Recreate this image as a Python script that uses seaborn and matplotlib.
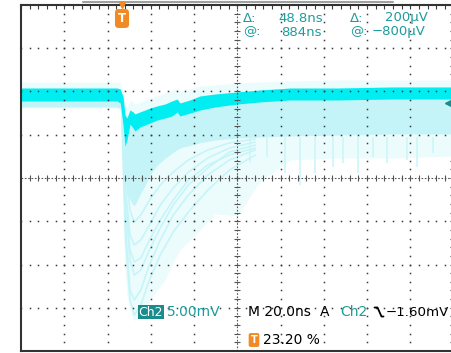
import numpy as np
import pandas as pd
import matplotlib
matplotlib.use("Agg")
import matplotlib.pyplot as plt
import seaborn as sns
from matplotlib.lines import Line2D

# ---------------- data (time in ns relative to trigger, voltage in mV relative to ground) ----
t_ns = [-46.4, -20, -2, -0.5, 0.8, 1.7, 2.6, 4.0, 5.4, 6.3, 8.6, 11, 13.3, 16.5, 20.2,
        23.4, 25.8, 27.1, 31.8, 36.4, 43.3, 53.5, 64, 78, 100, 125, 153.6]
haze_top = [2.43, 2.43, 2.43, 2.31, 1.50, -0.23, -0.58, 0.35, 0.12, -0.12, 0.12, 0.35, 0.58,
            0.81, 1.16, 1.50, 1.73, 1.27, 1.62, 1.97, 2.08, 2.31, 2.43, 2.54, 2.66, 2.66, 2.66]
band_top = [1.73, 1.73, 1.73, 1.62, 0.69, -1.39, -1.73, -0.81, -1.04, -1.27, -1.04, -0.81, -0.58,
            -0.35, -0.12, 0.23, 0.46, 0.0, 0.35, 0.81, 1.04, 1.27, 1.50, 1.73, 1.73, 1.85, 1.85]
band_bot = [0.23, 0.23, 0.23, 0.0, -2.54, -4.97, -4.28, -2.43, -2.89, -3.24, -2.77, -2.54, -2.31,
            -1.97, -1.73, -1.50, -1.04, -1.50, -1.16, -0.81, -0.46, -0.12, 0.12, 0.35, 0.35, 0.46, 0.46]
mid_bot = [-0.46, -0.46, -0.46, -0.58, -5.4, -8.9, -10.6, -11.2, -11.8, -11.8, -10.6,
           -9.5, -8.3, -7.2, -6.4, -5.8, -5.4, -5.2, -4.9, -4.6, -4.28, -4.05, -3.93,
           -3.81, -3.70, -3.58, -3.58]
faint_bot = [-0.58, -0.58, -0.58, -0.81, -13.53, -19.31, -22.20, -23.93, -25.08, -25.08, -24.85,
             -24.51, -22.77, -21.62, -20.46, -18.73, -17.57, -16.99, -15.84, -14.68, -12.83,
             -13.06, -9.13, -6.59, -6.36, -6.36, -6.13]

trace_t = [0.5, 2, 4, 6, 9, 13, 18, 24, 31, 40, 50, 62]
trace_1 = [-3.12, -14.68, -21.62, -22.77, -21.62, -18.73, -15.84, -12.95, -10.64, -8.32, -6.59, -5.43]
trace_2 = [-2.54, -12.37, -18.15, -19.88, -19.31, -16.99, -14.45, -11.79, -9.48, -7.51, -5.66, -4.86]
trace_3 = [-1.97, -10.06, -15.26, -16.42, -15.84, -14.10, -11.79, -9.83, -7.98, -6.36, -5.20, -4.51]
trace_4 = [-2.89, -15.84, -22.77, -24.51, -23.35, -20.46, -17.57, -14.91, -12.60, -10.06, -7.75, -6.01]
trace_5 = [-1.73, -8.32, -12.37, -13.76, -12.95, -11.21, -9.48, -7.98, -6.59, -5.43, -4.62, -4.16]
trace_6 = [-2.20, -11.21, -16.99, -18.38, -17.92, -15.84, -13.53, -11.21, -8.90, -7.17, -6.01, -5.20]

spike_t = [59.5, 67.4, 75.7, 82.6, 89.6, 97.9, 102.5, 109.5, 116.4, 122.9, 132.1, 136.7, 144.1]
spike_depth = [-6.94, -6.24, -8.09, -9.5, -8.09, -7.40, -6.94, -8.09, -6.24, -6.94, -6.59, -7.40, -5.78]

# scope settings
time_per_div = 20.0      # ns
volt_per_div = 5.0       # mV
x_min, x_max = -46.4, 153.6
y_min, y_max = -28.67, 11.33

# ---------------- figure ----------------
sns.set_style("white")
plt.rcParams['font.family'] = ['DejaVu Sans']
W, H = 451, 353
fig = plt.figure(figsize=(W / 100, H / 100), dpi=100)
fig.patch.set_facecolor("white")
ax = fig.add_axes([21 / W, 2 / H, 432.5 / W, 346 / H])
ax.set_xlim(x_min, x_max)
ax.set_ylim(y_min, y_max)

# persistence layers
ax.fill_between(t_ns, haze_top, faint_bot, color="#ecfcfd", lw=0, zorder=1)
ax.vlines(spike_t, -3.9, spike_depth, color="#d2f7fa", lw=1.4, zorder=2)

traces = pd.DataFrame({
    "t": trace_t * 6,
    "v": trace_1 + trace_2 + trace_3 + trace_4 + trace_5 + trace_6,
    "k": sum([[i] * len(trace_t) for i in range(6)], []),
})
sns.lineplot(data=traces, x="t", y="v", units="k", estimator=None, color="#c6f5f9",
             lw=1.2, ax=ax, zorder=2, legend=False)
ax.fill_between(t_ns, band_top, mid_bot, color="#c4f4f8", lw=0, zorder=3)
ax.fill_between(t_ns, band_top, band_bot, color="#00eef2", lw=0, zorder=4)
ax.set_xlabel("")
ax.set_ylabel("")

# ---------------- graticule ----------------
gc = "#3a3a3a"
xdiv = x_min + time_per_div * np.arange(11)
ydiv = y_max - volt_per_div * np.arange(9)
xsub = x_min + time_per_div / 5 * np.arange(51)
ysub = y_max - volt_per_div / 5 * np.arange(41)

for k, xv in enumerate(xdiv[1:-1], start=1):
    if k == 5:
        continue
    ax.plot(np.full_like(ysub, xv), ysub, ls="none", marker="s", ms=1.1, mew=0, color=gc, zorder=6)
for k, yv in enumerate(ydiv[1:-1], start=1):
    if k == 4:
        continue
    ax.plot(xsub, np.full_like(xsub, yv), ls="none", marker="s", ms=1.1, mew=0, color=gc, zorder=6)

xc, yc = xdiv[5], ydiv[4]
ax.axhline(yc, color="#555", lw=0.8, ls=(0, (1.5, 1.5)), zorder=6)
ax.axvline(xc, color="#555", lw=0.8, ls=(0, (1.5, 1.5)), zorder=6)
ax.plot(xsub, np.full_like(xsub, yc), ls="none", marker="|", ms=5, mew=0.8, color="#555", zorder=6)
ax.plot(np.full_like(ysub, xc), ysub, ls="none", marker="_", ms=5, mew=0.8, color="#555", zorder=6)

ax.set_xticks(xsub)
ax.set_yticks(ysub)
ax.tick_params(direction="in", length=3, width=0.8, color=gc, top=True, right=True,
               labelleft=False, labelbottom=False)
for s in ax.spines.values():
    s.set_color("#333")
    s.set_linewidth(1.5)
    s.set_zorder(7)

# ground marker
ax.plot([151.3], [0.0], marker="<", ms=6, color="#1a8c8c", clip_on=False, zorder=8)

# record bar above the graticule
fig.add_artist(Line2D([83 / W, 393 / W], [1 - 2.2 / H, 1 - 2.2 / H], color="#a0a0a0", lw=1.5))

# trigger position marker
fig.add_artist(Line2D([122 / W], [1 - 5 / H], marker="v", ms=5, color="#f08a24", ls="none"))
fig.text(122 / W, 1 - 18.5 / H, "T", color="white", fontsize=8.5, fontweight="bold",
         ha="center", va="center",
         bbox=dict(boxstyle="round,pad=0.25,rounding_size=0.3", fc="#f08a24", ec="none"))

teal = "#1e9c9c"


def ptext(x, y, s, color, size=9.5, **kw):
    fig.text(x / W, 1 - y / H, s, color=color, fontsize=size, ha="left", va="center", **kw)


# cursor readouts
ptext(243, 18, "Δ:", teal)
ptext(278, 18, "48.8ns", teal)
ptext(350, 18, "Δ:", teal)
ptext(385, 18, "200µV", teal)
ptext(243, 32, "@:", teal)
ptext(281, 32, "884ns", teal)
ptext(350, 32, "@:", teal)
ptext(372, 32, "−800µV", teal)

# bottom status line
ptext(138.5, 312, "Ch2", "white", 9,
      bbox=dict(boxstyle="square,pad=0.05", fc="#1a8c8c", ec="none"))
ptext(167, 312, "5.00mV", teal, 10)
ptext(248, 312, "M 20.0ns", "black", 10)
ptext(320, 312, "A", "black", 10)
ptext(340, 312, "Ch2", teal, 10)
fig.add_artist(Line2D(np.array([374.5, 377.5, 381.5, 383.5]) / W,
                      1 - np.array([307.5, 307.5, 316.5, 316.5]) / H, color="black", lw=1.3))
ptext(385.5, 312, "−1.60mV", "black", 9.6)

fig.text(254 / W, 1 - 340 / H, "T", color="white", fontsize=7, fontweight="bold",
         ha="center", va="center",
         bbox=dict(boxstyle="round,pad=0.2,rounding_size=0.2", fc="#f08a24", ec="none"))
ptext(263, 340, "23.20 %", "black", 10)

fig.savefig("out.png", dpi=100)
